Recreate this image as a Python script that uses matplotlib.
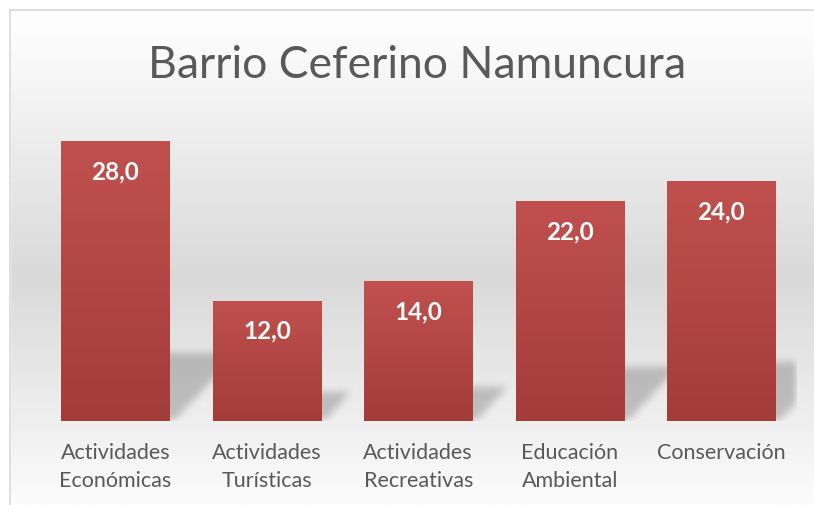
import numpy as np
import matplotlib
matplotlib.use("Agg")
import matplotlib.pyplot as plt
from matplotlib.colors import LinearSegmentedColormap
from matplotlib.path import Path

categories = ["Actividades\nEconómicas", "Actividades\nTurísticas", "Actividades\nRecreativas",
              "Educación\nAmbiental", "Conservación"]
values = [28.0, 12.0, 14.0, 22.0, 24.0]
labels = ["28,0", "12,0", "14,0", "22,0", "24,0"]
title = "Barrio Ceferino Namuncura"

FONT = ["Lato", "DejaVu Sans"]
plt.rcParams['font.family'] = FONT

W_PX, H_PX = 814, 505
fig = plt.figure(figsize=(W_PX / 100, H_PX / 100), dpi=100)

# background gradient (chart area)
bg = fig.add_axes([0, 0, 1, 1], zorder=0)
bg_cmap = LinearSegmentedColormap.from_list(
    "bg", [(0.0, "#ffffff"), (0.06, "#fdfdfd"), (0.55, "#d9d9d9"), (0.85, "#f0f0f0"), (1.0, "#fcfcfc")])
grad = np.linspace(0, 1, 256).reshape(-1, 1)
bg.imshow(grad, cmap=bg_cmap, aspect="auto", extent=(0, 1, 0, 1), origin="upper")
bg.set_xlim(0, 1)
bg.set_ylim(0, 1)
bg.axis("off")
# white outside the chart area border
bg.fill_between([0, 1], 1 - 10 / H_PX, 1, color="white", zorder=2)
bg.fill_between([0, 10 / W_PX], 0, 1, color="white", zorder=2)
bg.plot([10 / W_PX, 10 / W_PX], [0, 1 - 10 / H_PX], color="#d9d9d9", lw=1.2, zorder=3)
bg.plot([10 / W_PX, 1], [1 - 10 / H_PX, 1 - 10 / H_PX], color="#d9d9d9", lw=1.2, zorder=3)

# main axes
left = 39.75 / W_PX
width = (796.75 - 39.75) / W_PX
bottom = (H_PX - 421) / H_PX
height = 299 / H_PX
ax = fig.add_axes([left, bottom, width, height], zorder=1)
ax.set_facecolor("none")
for s in ax.spines.values():
    s.set_visible(False)

x = np.arange(len(categories))
bw = 0.715
ax.set_xlim(-0.5, len(categories) - 0.5)
ax.set_ylim(0, 30)
bars = ax.bar(x, values, width=bw, color="#b34543", zorder=2)

# bar gradients
bar_cmap = LinearSegmentedColormap.from_list("bar", ["#a43c3a", "#c0504d"])
for b in bars:
    bx, by = b.get_x(), b.get_y()
    bwid, bh = b.get_width(), b.get_height()
    ax.imshow(np.linspace(0, 1, 128).reshape(-1, 1), cmap=bar_cmap, origin="lower",
              extent=(bx, bx + bwid, by, by + bh), aspect="auto", zorder=3)

# perspective shadows computed in axes pixel space
bbox = ax.get_window_extent()
Wp, Hp = int(round(bbox.width)), int(round(bbox.height))
yy, xx = np.mgrid[0:Hp, 0:Wp]
pts = np.column_stack([xx.ravel() + 0.5, yy.ravel() + 0.5])
mask = np.zeros(Hp * Wp)
for b in bars:
    (x0, y0) = ax.transData.transform((b.get_x(), 0)) - [bbox.x0, bbox.y0]
    (x1, y1) = ax.transData.transform((b.get_x() + b.get_width(), b.get_height())) - [bbox.x0, bbox.y0]
    hs = 0.245 * (y1 - y0)
    k = 1.0
    poly = Path([(x0, y0 - 4), (x1, y0 - 4), (x1 + hs * k, y0 + hs), (x0 + hs * k, y0 + hs)])
    mask = np.maximum(mask, poly.contains_points(pts).astype(float))
mask = mask.reshape(Hp, Wp)


def box_blur(a, r):
    k = np.ones(2 * r + 1) / (2 * r + 1)
    a = np.apply_along_axis(lambda m: np.convolve(m, k, mode="same"), 0, a)
    a = np.apply_along_axis(lambda m: np.convolve(m, k, mode="same"), 1, a)
    return a


mask = box_blur(box_blur(mask, 4), 4)
rgba = np.zeros((Hp, Wp, 4))
rgba[..., 3] = mask * 0.2
ax.imshow(rgba, origin="lower", extent=(-0.5, len(categories) - 0.5, 0, 30), aspect="auto", zorder=1.5)
ax.set_xlim(-0.5, len(categories) - 0.5)
ax.set_ylim(0, 30)

# data labels
for b, lab in zip(bars, labels):
    ax.annotate(lab, (b.get_x() + b.get_width() / 2, b.get_height()), xytext=(0, -30),
                textcoords="offset pixels", ha="center", va="center", color="white",
                fontsize=17.5, fontweight="bold", zorder=5)

ax.set_yticks([])
ax.set_xticks(x)
ax.set_xticklabels(categories, fontsize=15.5, color="#595959", va="top", linespacing=1.5)
ax.tick_params(axis="x", length=0, pad=16)

fig.text(417.5 / W_PX, (H_PX - 78) / H_PX, title, ha="center", va="baseline",
         fontsize=32, color="#595959", zorder=5)

fig.savefig("out.png", dpi=100)
